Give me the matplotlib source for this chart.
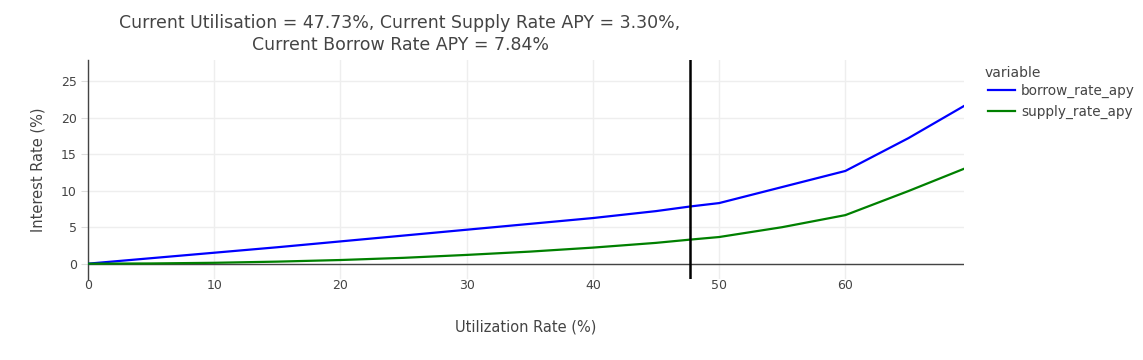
import matplotlib
matplotlib.use('Agg')
from matplotlib import pyplot as plt

# values
utilization = [0, 5, 10, 15, 20, 25, 30, 35, 40, 45, 47.73, 50, 55, 60, 65, 69.4]
borrow_rate_apy = [0, 0.75, 1.5, 2.25, 3.05, 3.85, 4.65, 5.45, 6.25, 7.2, 7.84, 8.3, 10.5, 12.7, 17.2, 21.6]
supply_rate_apy = [0, 0.03, 0.12, 0.28, 0.5, 0.8, 1.2, 1.65, 2.2, 2.85, 3.3, 3.65, 5.0, 6.65, 9.95, 13.0]
current_util = 47.73
current_supply = 3.30
current_borrow = 7.84

x_ticks = [0, 10, 20, 30, 40, 50, 60]
y_ticks = [0, 5, 10, 15, 20, 25]

txt = '#444444'
plt.rcParams['font.family'] = ['DejaVu Sans']

fig = plt.figure(figsize=(11.43, 3.6), dpi=100)
W, H = 1143, 360
ax = fig.add_axes([88 / W, 1 - 279 / H, (964 - 88) / W, (279 - 60) / H])

ax.plot(utilization, borrow_rate_apy, color='#0000ff', lw=1.6, label='borrow_rate_apy', zorder=3)
ax.plot(utilization, supply_rate_apy, color='#008000', lw=1.6, label='supply_rate_apy', zorder=3)
ax.axvline(current_util, color='black', lw=1.8, zorder=4)
ax.axhline(0, color=txt, lw=1, zorder=2)

ax.set_xlim(0, 69.4)
ax.set_ylim(-2.1, 27.9)
ax.set_xticks(x_ticks)
ax.set_yticks(y_ticks)
ax.grid(True, color='#eeeeee', lw=1)
ax.set_axisbelow(True)
for s in ['top', 'right', 'bottom']:
    ax.spines[s].set_visible(False)
ax.spines['left'].set_color(txt)
ax.spines['left'].set_linewidth(1)
ax.tick_params(axis='x', length=0, pad=0, labelsize=9, labelcolor=txt)
ax.tick_params(axis='y', length=5, color='#dddddd', pad=3, labelsize=9, labelcolor=txt)

ax.set_xlabel('Utilization Rate (%)', fontsize=10.5, color=txt, labelpad=20)
ax.set_ylabel('Interest Rate (%)', fontsize=10.5, color=txt, labelpad=11)

fig.text(400 / W, 1 - 34 / H,
         'Current Utilisation = %.2f%%, Current Supply Rate APY = %.2f%%,\nCurrent Borrow Rate APY = %.2f%%'
         % (current_util, current_supply, current_borrow),
         ha='center', va='center', fontsize=12.5, color=txt, linespacing=1.3)

# legend title drawn separately so its gap to the entries matches
fig.text(985 / W, 1 - 73 / H, 'variable', ha='left', va='center', fontsize=10, color=txt)
leg = fig.legend(loc='upper left', bbox_to_anchor=(981 / W, 1 - 77 / H),
                 frameon=False, fontsize=9.8, borderpad=0,
                 handlelength=2.0, handletextpad=0.45, labelspacing=0.5)
for t in leg.get_texts():
    t.set_color(txt)

fig.savefig('out.png', dpi=100)
